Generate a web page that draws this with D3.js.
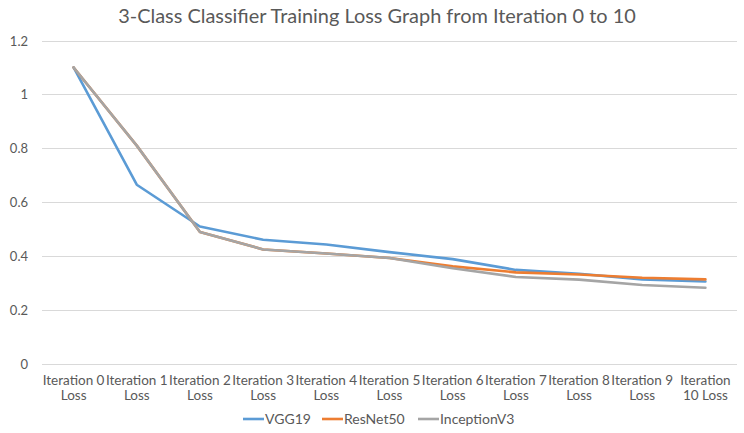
<!DOCTYPE html>
<html><head><meta charset="utf-8">
<script src="https://cdn.jsdelivr.net/npm/d3@7"></script>
<style>
body{margin:0;background:#fff;}
text{font-family:Lato,"Open Sans",sans-serif;fill:#595959;}
</style></head>
<body><svg id="c" width="744" height="433"></svg>
<script>
const categories = ["Iteration 0 Loss","Iteration 1 Loss","Iteration 2 Loss","Iteration 3 Loss","Iteration 4 Loss","Iteration 5 Loss","Iteration 6 Loss","Iteration 7 Loss","Iteration 8 Loss","Iteration 9 Loss","Iteration 10 Loss"];
const labelLines = [["Iteration 0","Loss"],["Iteration 1","Loss"],["Iteration 2","Loss"],["Iteration 3","Loss"],["Iteration 4","Loss"],["Iteration 5","Loss"],["Iteration 6","Loss"],["Iteration 7","Loss"],["Iteration 8","Loss"],["Iteration 9","Loss"],["Iteration","10 Loss"]];
const vgg19 = [1.1, 0.665, 0.51, 0.461, 0.443, 0.415, 0.389, 0.349, 0.335, 0.314, 0.306];
const resnet50 = [1.1, 0.81, 0.49, 0.425, 0.41, 0.393, 0.362, 0.34, 0.332, 0.32, 0.314];
const inceptionV3 = [1.1, 0.81, 0.49, 0.425, 0.41, 0.393, 0.355, 0.323, 0.313, 0.293, 0.283];
const seriesNames = ["VGG19","ResNet50","InceptionV3"];
const seriesColors = ["#5B9BD5","#ED7D31","#A5A5A5"];
const yTicks = [0,0.2,0.4,0.6,0.8,1,1.2];
const title = "3-Class Classifier Training Loss Graph from Iteration 0 to 10";

const svg = d3.select("#c");
const x = d3.scaleBand().domain(categories).range([42, 737]);
const y = d3.scaleLinear().domain([0, 1.2]).range([364, 40.5]);

function fit(sel, w){ const n = sel.node(); const cur = n.getComputedTextLength(); const fs = parseFloat(sel.attr("font-size")); sel.attr("font-size", fs * w / cur); }

const t = svg.append("text").attr("x", 377).attr("y", 23).attr("text-anchor","middle").attr("font-size",18).text(title);
fit(t, 518);

// gridlines
svg.append("g").selectAll("line").data(yTicks).join("line")
  .attr("x1", 42).attr("x2", 737).attr("y1", d=>Math.round(y(d))+0.5).attr("y2", d=>Math.round(y(d))+0.5)
  .attr("stroke", "#D9D9D9").attr("stroke-width", 1);

// y tick labels
const ya = svg.append("g").attr("transform","translate(28,0)").call(d3.axisLeft(y).tickValues(yTicks).tickSize(0).tickPadding(0).tickFormat(d=>d3.format("~g")(d)));
ya.select(".domain").remove();
ya.selectAll("text").attr("font-size", 13).attr("font-family","Lato,'Open Sans',sans-serif").attr("fill","#595959").attr("dy","0.35em");

// x labels
const xg = svg.append("g").attr("transform","translate(0,364)").call(d3.axisBottom(x).tickSize(0).tickFormat(""));
xg.select(".domain").remove();
xg.selectAll(".tick").each(function(d,i){
  const g = d3.select(this);
  g.select("text").remove();
  labelLines[i].forEach((s,j)=>{
    g.append("text").attr("y", 21 + j*15).attr("text-anchor","middle").attr("font-size",13.5).text(s);
  });
});

const data = [vgg19, resnet50, inceptionV3];
const line = d3.line().x((d,i)=>x(categories[i]) + x.bandwidth()/2).y(d=>y(d));
svg.append("g").selectAll("path").data(data).join("path")
  .attr("d", line).attr("fill","none").attr("stroke",(d,i)=>seriesColors[i]).attr("stroke-width",2.6).attr("stroke-linejoin","round").attr("stroke-linecap","round");

// legend
const lg = svg.append("g");
const legX = [243, 322, 418];
seriesNames.forEach((n,i)=>{
  lg.append("line").attr("x1", legX[i]).attr("x2", legX[i]+21).attr("y1", 419).attr("y2", 419).attr("stroke", seriesColors[i]).attr("stroke-width", 2.6);
  lg.append("text").attr("x", legX[i]+22).attr("y", 419).attr("dy","0.35em").attr("font-size",14).text(n);
});
</script></body></html>
